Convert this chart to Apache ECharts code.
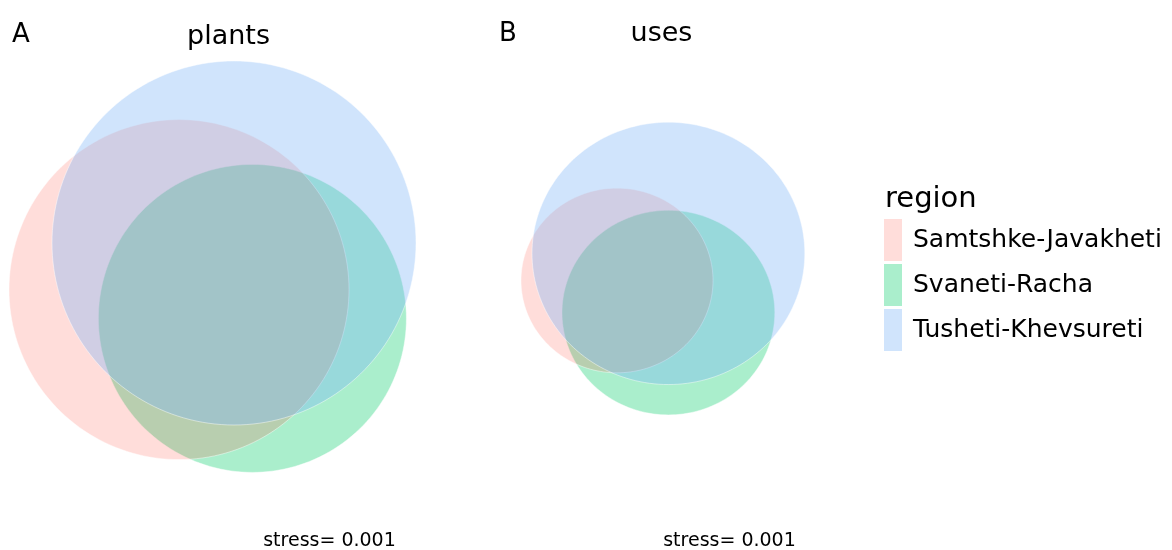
<!DOCTYPE html>
<html>
<head>
<meta charset="utf-8">
<script src="https://cdn.jsdelivr.net/npm/echarts@6/dist/echarts.min.js"></script>
<style>
  html, body { margin: 0; padding: 0; background: #ffffff; }
  #chart { width: 1172px; height: 550px; }
</style>
</head>
<body>
<div id="chart"></div>
<script>
// Region names (legend order)
const regions = ['Samtshke-Javakheti', 'Svaneti-Racha', 'Tusheti-Khevsureti'];

// Euler diagram circles, diagram units: centre x, centre y, radius
const plantsCx = [42.75, 61.1, 56.5];
const plantsCy = [46.6, 39.4, 58.25];
const plantsR  = [42.5, 38.5, 45.5];

const usesCx = [25.25, 38.1, 38.1];
const usesCy = [35.75, 27.4, 42.8];
const usesR  = [24.0, 26.6, 34.1];

// Panel captions
const panelLetters = ['A', 'B'];
const panelTitles = ['plants', 'uses'];
const stressText = ['stress= 0.001', 'stress= 0.001'];

// Translucent fills per region
const fills = ['rgba(255,49,31,0.165)', 'rgba(42,212,127,0.4)', 'rgba(121,178,246,0.35)'];
// Paint order: green, red, blue
const drawOrder = [1, 0, 2];

const FONT = '"DejaVu Sans", sans-serif';

function renderCircle(params, api) {
  const cx = api.value(0), cy = api.value(1), r = api.value(2);
  const pts = [];
  const n = 180;
  for (let i = 0; i < n; i++) {
    const t = (i / n) * Math.PI * 2;
    pts.push(api.coord([cx + r * Math.cos(t), cy + r * Math.sin(t)]));
  }
  return {
    type: 'polygon',
    shape: { points: pts },
    style: { fill: api.visual('color'), stroke: 'rgba(255,255,255,0.45)', lineWidth: 1 }
  };
}

function panelSeries(panelIdx, cxs, cys, rs) {
  return drawOrder.map(function (k) {
    return {
      type: 'custom',
      name: regions[k],
      xAxisIndex: panelIdx,
      yAxisIndex: panelIdx,
      itemStyle: { color: fills[k] },
      renderItem: renderCircle,
      silent: true,
      data: [[cxs[k], cys[k], rs[k]]]
    };
  });
}

const hiddenAxis = { type: 'value', show: false, splitLine: { show: false } };

const chart = echarts.init(document.getElementById('chart'), null, { renderer: 'canvas' });

chart.setOption({
  backgroundColor: '#ffffff',
  animation: false,
  grid: [
    { left: 8, top: 60, width: 412, height: 416 },
    { left: 516, top: 118, width: 292, height: 300 }
  ],
  xAxis: [
    Object.assign({ gridIndex: 0, min: 0, max: 103 }, hiddenAxis),
    Object.assign({ gridIndex: 1, min: 0, max: 73 }, hiddenAxis)
  ],
  yAxis: [
    Object.assign({ gridIndex: 0, min: 0, max: 104 }, hiddenAxis),
    Object.assign({ gridIndex: 1, min: 0, max: 78 }, hiddenAxis)
  ],
  legend: {
    data: regions,
    orient: 'vertical',
    left: 884,
    top: 219,
    padding: 0,
    icon: 'rect',
    itemWidth: 18,
    itemHeight: 42,
    itemGap: 3,
    selectedMode: false,
    textStyle: { fontFamily: FONT, fontSize: 25, color: '#000000', padding: [0, 0, 0, 6] }
  },
  graphic: [
    { type: 'text', x: 12, y: 35, style: { text: panelLetters[0], font: '26px ' + FONT, fill: '#000', textAlign: 'left', textVerticalAlign: 'middle' } },
    { type: 'text', x: 228.5, y: 36.5, style: { text: panelTitles[0], font: '27px ' + FONT, fill: '#000', textAlign: 'center', textVerticalAlign: 'middle' } },
    { type: 'text', x: 499, y: 34, style: { text: panelLetters[1], font: '26px ' + FONT, fill: '#000', textAlign: 'left', textVerticalAlign: 'middle' } },
    { type: 'text', x: 661.5, y: 34, style: { text: panelTitles[1], font: '27px ' + FONT, fill: '#000', textAlign: 'center', textVerticalAlign: 'middle' } },
    { type: 'text', x: 885, y: 199.5, style: { text: 'region', font: '29px ' + FONT, fill: '#000', textAlign: 'left', textVerticalAlign: 'middle' } },
    { type: 'text', x: 329.5, y: 541.5, style: { text: stressText[0], font: '19px ' + FONT, fill: '#000', textAlign: 'center', textVerticalAlign: 'middle' } },
    { type: 'text', x: 729.5, y: 541.5, style: { text: stressText[1], font: '19px ' + FONT, fill: '#000', textAlign: 'center', textVerticalAlign: 'middle' } }
  ],
  series: panelSeries(0, plantsCx, plantsCy, plantsR).concat(panelSeries(1, usesCx, usesCy, usesR))
});
</script>
</body>
</html>
